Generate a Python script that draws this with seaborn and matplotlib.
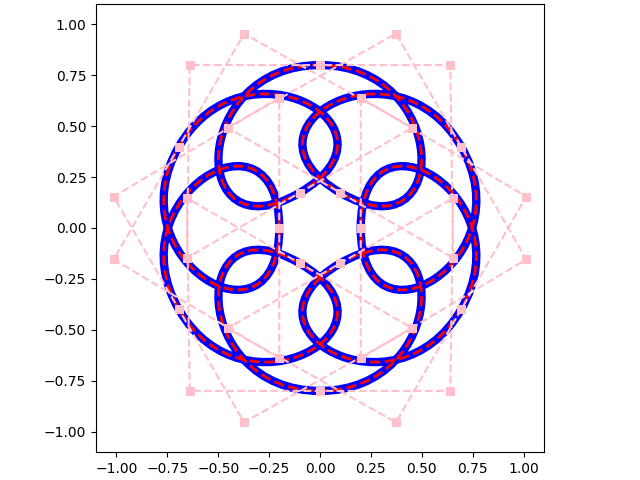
import numpy as np
import matplotlib
matplotlib.use("Agg")
import matplotlib.pyplot as plt
import seaborn as sns
from matplotlib.path import Path
from matplotlib.patches import PathPatch

# control points of the closed cubic Bezier path
ctrl_x = [0.2, 0.2, 1.013, 0.693, 0.373, -0.454,
          0.1, 0.654, 0.64, 0.0, -0.64, -0.654,
          -0.1, 0.454, -0.373, -0.693, -1.013, -0.2,
          -0.2, -0.2, -1.013, -0.693, -0.373, 0.454,
          -0.1, -0.654, -0.64, 0.0, 0.64, 0.654,
          0.1, -0.454, 0.373, 0.693, 1.013, 0.2,
          0.2]
ctrl_y = [0.0, 0.64, 0.154, -0.4, -0.954, -0.493,
          -0.173, 0.147, -0.8, -0.8, -0.8, 0.147,
          -0.173, -0.493, -0.954, -0.4, 0.154, 0.64,
          0.0, -0.64, -0.154, 0.4, 0.954, 0.493,
          0.173, -0.147, 0.8, 0.8, 0.8, -0.147,
          0.173, 0.493, 0.954, 0.4, -0.154, -0.64,
          0.0]

ticks = [-1.0, -0.75, -0.5, -0.25, 0.0, 0.25, 0.5, 0.75, 1.0]

verts = list(zip(ctrl_x, ctrl_y))
codes = [Path.MOVETO] + [Path.CURVE4] * (len(verts) - 1)
path = Path(verts, codes)

fig = plt.figure(figsize=(6.4, 4.8), dpi=100)
ax = fig.add_axes([96 / 640, 28 / 480, 448 / 640, 448 / 480])

# the curve: thick blue, red dashes on top
ax.add_patch(PathPatch(path, facecolor="none", edgecolor="blue", lw=6))
ax.add_patch(PathPatch(path, facecolor="none", edgecolor="red", lw=2, linestyle="--"))

# control polygon
sns.lineplot(x=ctrl_x, y=ctrl_y, sort=False, estimator=None, ax=ax,
             color="pink", linestyle="--", lw=1.5, marker="s",
             markersize=6, markeredgecolor="pink")

ax.set_xlim(-1.1, 1.1)
ax.set_ylim(-1.1, 1.1)
ax.set_aspect("equal")
ax.set_xticks(ticks)
ax.set_yticks(ticks)

plt.savefig("out.png", dpi=100)
